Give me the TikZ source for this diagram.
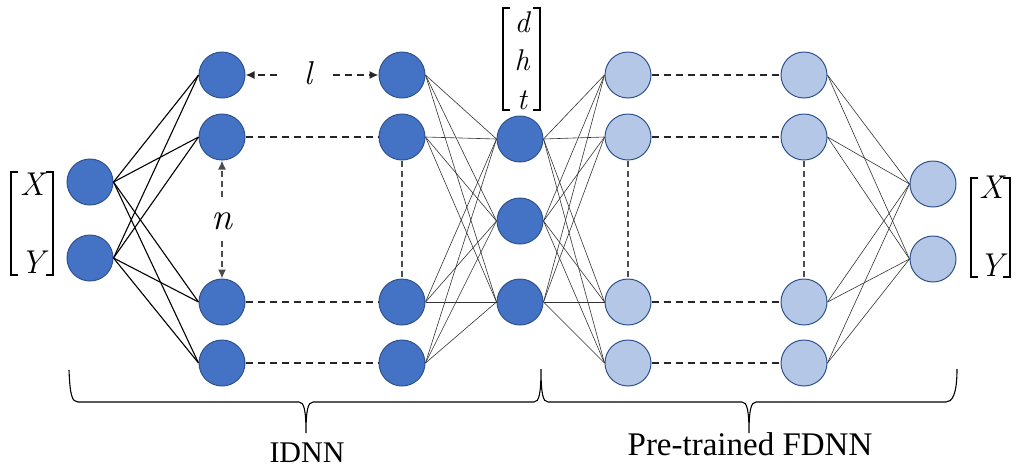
\documentclass[tikz,border=0pt]{standalone}
\usepackage{fontspec}
\newfontfamily\capfont{Liberation Serif}
\usetikzlibrary{arrows.meta}
\definecolor{nodeblue}{RGB}{68,114,196}
\definecolor{nodelight}{RGB}{180,199,231}
\definecolor{nodeedge}{RGB}{47,82,143}
\begin{document}
\begin{tikzpicture}[x=1pt,y=-1pt,
  darkneuron/.style={circle,minimum size=46pt,inner sep=0pt,fill=nodeblue,draw=nodeedge,line width=1pt},
  lightneuron/.style={darkneuron,fill=nodelight},
  inlink/.style={black,line width=1.1pt},
  link/.style={black!80,line width=0.6pt},
  hdash/.style={black!85,line width=1.5pt,dash pattern=on 7pt off 5pt},
  vdash/.style={black!70,line width=1.3pt,dash pattern=on 6pt off 4pt},
  dimarrow/.style={hdash,-{Latex[length=9pt,width=8pt]}},
  vdimarrow/.style={vdash,-{Latex[length=9pt,width=8pt]}},
  bracket/.style={black,line width=1.6pt},
  brace/.style={black,line width=1.1pt},
  bigmath/.style={anchor=base,inner sep=0pt,font=\fontsize{33}{33}\selectfont\itshape},
  midmath/.style={anchor=base,inner sep=0pt,font=\fontsize{30}{30}\selectfont\itshape},
  caption/.style={anchor=base,inner sep=0pt}]
\useasboundingbox (0,0) rectangle (1018,475);

% neurons
\node[darkneuron] (i1) at (90,182) {};
\node[darkneuron] (i2) at (90,258) {};
\foreach \n/\y in {1/75,2/137,3/302,4/363}{
  \node[darkneuron] (a\n) at (222,\y) {};
  \node[darkneuron] (b\n) at (402,\y) {};
  \node[lightneuron] (c\n) at (628,\y) {};
  \node[lightneuron] (e\n) at (804,\y) {};
}
\node[darkneuron] (m1) at (520,139) {};
\node[darkneuron] (m2) at (520,221) {};
\node[darkneuron] (m3) at (520,302) {};
\node[lightneuron] (o1) at (933,184) {};
\node[lightneuron] (o2) at (933,259) {};

% full connections
\foreach \s in {i1,i2}\foreach \t in {a1,a2,a3,a4}{\draw[inlink] (\s.east) -- (\t.west);}
\foreach \s in {b1,b2,b3,b4}\foreach \t in {m1,m2,m3}{\draw[link] (\s.east) -- (\t.west);}
\foreach \s in {m1,m2,m3}\foreach \t in {c1,c2,c3,c4}{\draw[link] (\s.east) -- (\t.west);}
\foreach \s in {e1,e2,e3,e4}\foreach \t in {o1,o2}{\draw[link] (\s.east) -- (\t.west);}

% dashed layer links
\foreach \n in {2,3,4}{\draw[hdash] (a\n.east) -- (b\n.west);}
\foreach \n in {1,2,3,4}{\draw[hdash] (c\n.east) -- (e\n.west);}
\draw[vdash] (b2.south) -- (b3.north);
\draw[vdash] (c2.south) -- (c3.north);
\draw[vdash] (e2.south) -- (e3.north);

% l and n
\node[inner sep=0pt,font=\fontsize{33}{33}\selectfont\itshape] (lbl) at (308,73) {l};
\coordinate (lL) at (277,75);
\coordinate (lR) at (333,75);
\draw[dimarrow] (lL) -- (a1.east);
\draw[dimarrow] (lR) -- (b1.west);
\node[inner sep=0pt,font=\fontsize{38}{38}\selectfont\itshape] (nlbl) at (222,221) {n};
\coordinate (nT) at (222,197);
\coordinate (nB) at (222,241);
\draw[vdimarrow] (nT) -- (a2.south);
\draw[vdimarrow] (nB) -- (a3.north);

% vectors
\draw[bracket] (18,172) -- (11,172) -- (11,275) -- (18,275);
\draw[bracket] (46,172) -- (53,172) -- (53,275) -- (46,275);
\node[bigmath] (xin) at (32,195) {X};
\node[bigmath] (yin) at (32,273) {Y};

\draw[bracket] (978,178) -- (971,178) -- (971,277) -- (978,277);
\draw[bracket] (1003,178) -- (1010,178) -- (1010,277) -- (1003,277);
\node[bigmath] (xout) at (991,198) {X};
\node[bigmath] (yout) at (991,276) {Y};

\draw[bracket] (510,8) -- (503,8) -- (503,110) -- (510,110);
\draw[bracket] (533,8) -- (540,8) -- (540,110) -- (533,110);
\node[midmath] (dl) at (522,32) {d};
\node[midmath] (hl) at (522,70) {h};
\node[midmath] (tl) at (522,109) {t};

% braces
\draw[brace] (69,370) .. controls (70,395) and (72,402) .. (78,402) -- (299,402)
  .. controls (304,402) and (306,410) .. (306,433)
  .. controls (306,410) and (308,402) .. (313,402) -- (534,402)
  .. controls (539,402) and (541,394) .. (541,369)
  .. controls (541,394) and (543,402) .. (548,402) -- (742,402)
  .. controls (747,402) and (749,410) .. (749,433)
  .. controls (749,410) and (751,402) .. (756,402) -- (946,402)
  .. controls (952,402) and (957,395) .. (957,369);

\node[caption,font=\capfont\fontsize{30}{30}\selectfont] (idnn) at (307,462) {IDNN};
\node[caption,font=\capfont\fontsize{33}{33}\selectfont] (fdnn) at (750,455) {Pre-trained FDNN};
\end{tikzpicture}
\end{document}
